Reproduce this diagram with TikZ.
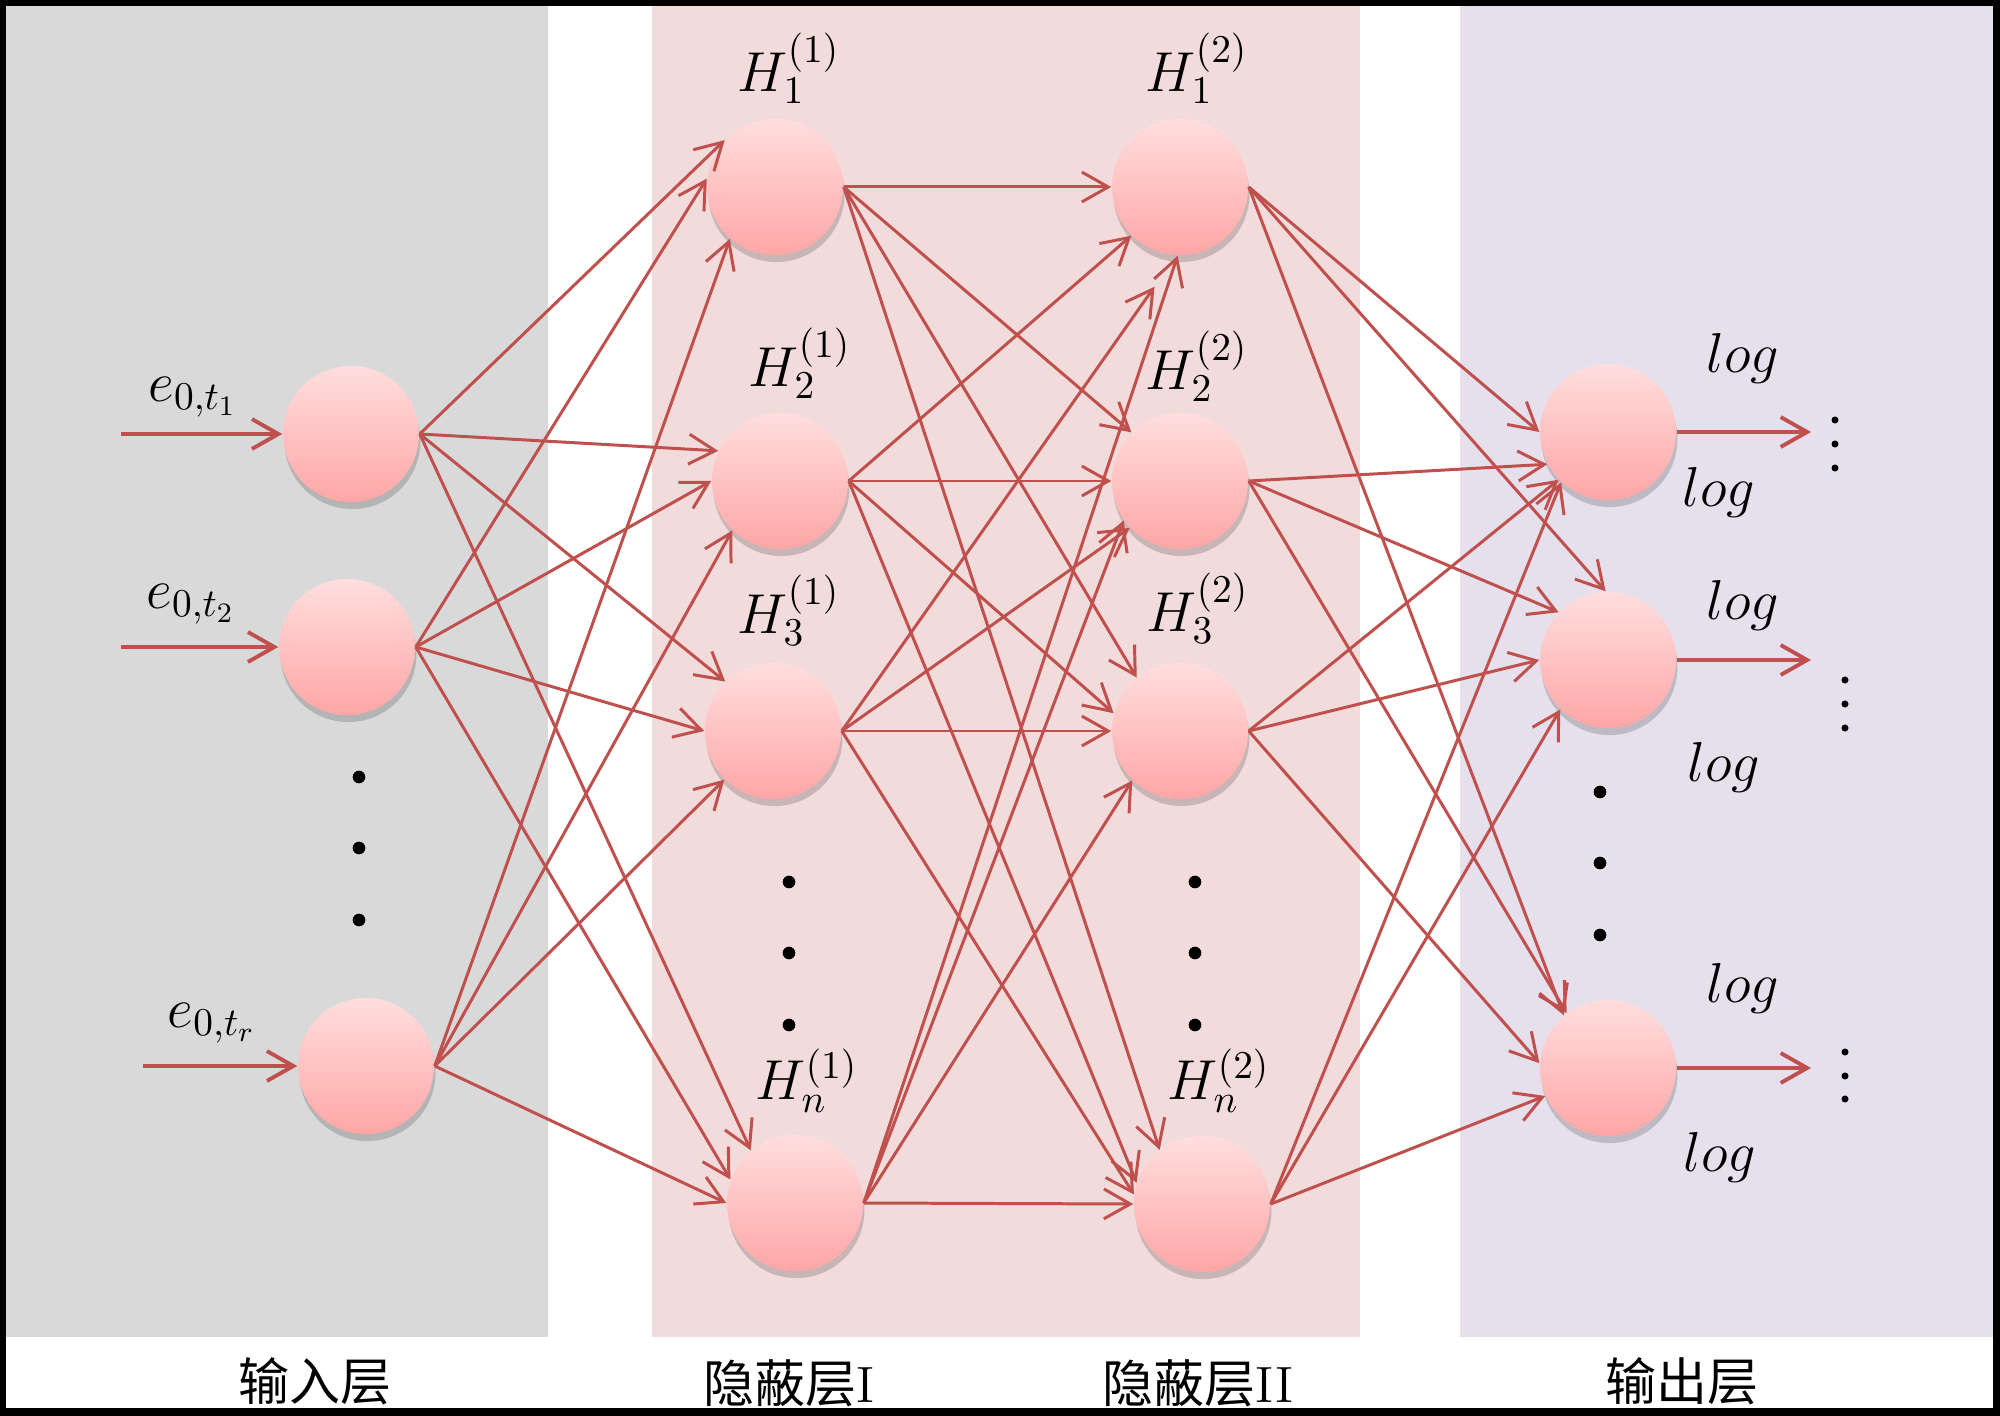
\RequirePackage{fix-cm}
\documentclass[tikz,border=0pt]{standalone}
\usepackage{fontspec}
\newfontfamily\cjk{Noto Sans CJK SC}
\usetikzlibrary{arrows.meta,shadows}
\definecolor{edgered}{HTML}{C0504D}
\definecolor{graypanel}{HTML}{D9D9D9}
\definecolor{pinkpanel}{HTML}{F2DCDB}
\definecolor{purplepanel}{HTML}{E5E0EC}
\definecolor{nodetop}{HTML}{FFDEDE}
\definecolor{nodebot}{HTML}{FFA6A6}
\begin{document}
\begin{tikzpicture}[x=0.01cm,y=-0.01cm,
  neuron/.style={circle,minimum size=1.36cm,inner sep=0pt,top color=nodetop,bottom color=nodebot,
    drop shadow={shadow xshift=0.4pt,shadow yshift=-2pt,opacity=0.22,fill=black!80}},
  conn/.style={edgered,line width=0.85pt,-{Straight Barb[length=7.5pt,width=8.5pt]}},
  ioconn/.style={conn,line width=1.1pt},
  mlab/.style={font=\fontsize{16}{19}\selectfont,inner sep=0pt},
  cnlab/.style={font=\fontsize{14.5}{17}\selectfont,inner sep=0pt}
]
\useasboundingbox (0,0) rectangle (2000,1416);
% frame and panels
\fill[black] (0,0) rectangle (2000,1416);
\fill[white] (6,6) rectangle (1993,1408);
\fill[graypanel] (6,6) rectangle (548,1337);
\fill[pinkpanel] (652,6) rectangle (1360,1337);
\fill[purplepanel] (1460,6) rectangle (1993,1337);

% neurons
\node[neuron] (I1) at (351,434) {};
\node[neuron] (I2) at (347,647) {};
\node[neuron] (Ir) at (366,1066) {};
\node[neuron] (A1) at (775,187) {};
\node[neuron] (A2) at (780,481) {};
\node[neuron] (A3) at (773,731) {};
\node[neuron] (An) at (795,1203) {};
\node[neuron] (B1) at (1180,187) {};
\node[neuron] (B2) at (1180,481) {};
\node[neuron] (B3) at (1180,731) {};
\node[neuron] (Bn) at (1202,1204) {};
\node[neuron] (O1) at (1608,432) {};
\node[neuron] (O2) at (1608,660) {};
\node[neuron] (O3) at (1608,1068) {};

% input arrows
\coordinate (s1) at (121,434);
\coordinate (s2) at (121,647);
\coordinate (sr) at (143,1066);
\draw[ioconn] (s1) -- (I1);
\draw[ioconn] (s2) -- (I2);
\draw[ioconn] (sr) -- (Ir);

% connections
\foreach \s/\t/\a in {
  I1/A1/137, I1/A2/154, I1/A3/134, I1/An/130,
  I2/A1/173, I2/A2/180, I2/A3/180, I2/An/160,
  Ir/A1/229, Ir/A2/226, Ir/A3/225, Ir/An/180,
  A1/B1/180, A1/B2/135, A1/B3/129, A1/Bn/128,
  A2/B1/225, A2/B2/180, A2/B3/165, A2/Bn/162,
  A3/B2/223, A3/B3/180, A3/Bn/172,
  An/B1/268, An/B2/215, An/B3/226, An/Bn/180,
  B1/O1/180, B1/O2/92,  B1/O3/130,
  B2/O1/208, B2/O2/136, B2/O3/127,
  B3/O1/224, B3/O2/180, B3/O3/176,
  Bn/O1/227, Bn/O2/226, Bn/O3/204}
  \draw[conn] (\s.east) -- (\t.\a);
\draw[conn,shorten >=10.8pt] (A3.east) -- (B1.267);

% output arrows
\coordinate (t1) at (1811,432);
\coordinate (t2) at (1811,660);
\coordinate (t3) at (1811,1068);
\draw[ioconn] (O1.east) -- (t1);
\draw[ioconn] (O2.east) -- (t2);
\draw[ioconn] (O3.east) -- (t3);

% vertical dots
\foreach \y in {777,848,920} \fill (359,\y) circle[radius=1.8pt];
\foreach \y in {882,953,1025} {\fill (789,\y) circle[radius=1.8pt]; \fill (1195,\y) circle[radius=1.8pt];}
\foreach \y in {792,863,935} \fill (1600,\y) circle[radius=1.8pt];
\foreach \y in {420,444,468} \fill (1835,\y) circle[radius=1pt];
\foreach \y in {680,704,728} \fill (1845,\y) circle[radius=1pt];
\foreach \y in {1052,1076,1099} \fill (1845,\y) circle[radius=1pt];

% labels
\node[mlab] (e1) at (193,397) {$e_{0,t_1}$};
\node[mlab] (e2) at (191,604) {$e_{0,t_2}$};
\node[mlab] (er) at (212,1023) {$e_{0,t_r}$};
\node[mlab] (hA1) at (789,68) {$H_1^{(1)}$};
\node[mlab] (hA2) at (800,363) {$H_2^{(1)}$};
\node[mlab] (hA3) at (789,610) {$H_3^{(1)}$};
\node[mlab] (hAn) at (807,1081) {$H_n^{(1)}$};
\node[mlab] (hB1) at (1197,68) {$H_1^{(2)}$};
\node[mlab] (hB2) at (1197,366) {$H_2^{(2)}$};
\node[mlab] (hB3) at (1198,608) {$H_3^{(2)}$};
\node[mlab] (hBn) at (1219,1081) {$H_n^{(2)}$};
\node[mlab] (g1) at (1743,358) {$log$};
\node[mlab] (g2) at (1719,492) {$log$};
\node[mlab] (g3) at (1743,605) {$log$};
\node[mlab] (g4) at (1724,767) {$log$};
\node[mlab] (g5) at (1743,988) {$log$};
\node[mlab] (g6) at (1720,1157) {$log$};

\node[cnlab] (c1) at (315,1381) {\cjk 输入层};
\node[cnlab] (c2) at (789,1383) {{\cjk 隐蔽层}I};
\node[cnlab] (c3) at (1198,1383) {{\cjk 隐蔽层}II};
\node[cnlab] (c4) at (1682,1381) {\cjk 输出层};
\end{tikzpicture}
\end{document}
